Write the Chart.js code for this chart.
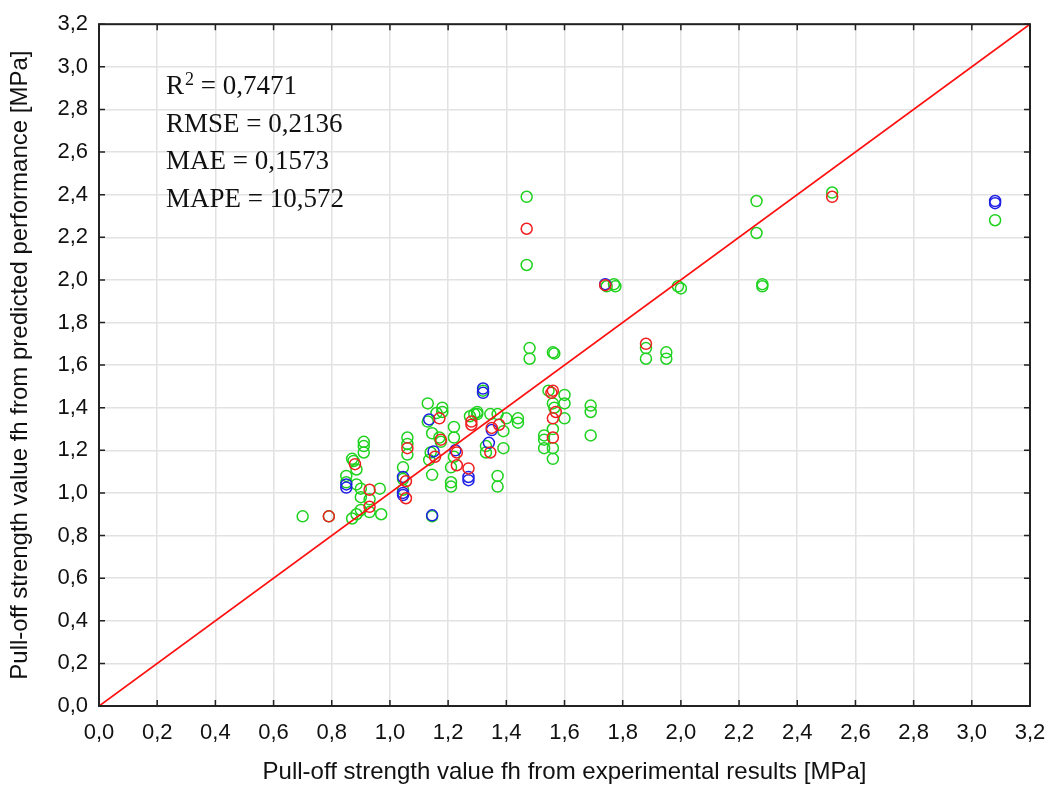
<!DOCTYPE html>
<html>
<head>
<meta charset="utf-8">
<script src="https://cdn.jsdelivr.net/npm/chart.js@4"></script>
<style>
  html, body { margin: 0; padding: 0; background: #fff; overflow: hidden; }
  #wrap { width: 1051px; height: 787px; position: relative; }
  canvas { display: block; }
</style>
</head>
<body>
<div id="wrap"><canvas id="chart"></canvas></div>
<script>
// tick labels (decimal comma, as in the original)
const tickLabels = ['0,0','0,2','0,4','0,6','0,8','1,0','1,2','1,4','1,6','1,8','2,0','2,2','2,4','2,6','2,8','3,0','3,2'];

// experimental vs predicted, [x, y] pairs per model
const greenPoints = [
  [1.47,2.39],[1.47,2.07],[1.745,1.97],[1.77,1.98],[1.775,1.97],[1.99,1.97],[2.0,1.96],
  [2.26,2.37],[2.26,2.22],[2.28,1.98],[2.28,1.97],[2.52,2.41],[3.08,2.28],
  [1.48,1.68],[1.48,1.63],[1.56,1.66],[1.565,1.655],[1.88,1.68],[1.88,1.63],[1.95,1.66],[1.95,1.63],
  [1.69,1.41],[1.69,1.38],[1.69,1.27],
  [1.32,1.48],[1.545,1.48],[1.60,1.46],[1.60,1.42],[1.60,1.35],[1.56,1.42],[1.565,1.40],[1.56,1.30],
  [1.53,1.27],[1.53,1.25],[1.53,1.21],[1.56,1.21],[1.56,1.16],
  [1.44,1.35],[1.44,1.33],[1.30,1.38],[1.30,1.37],[1.275,1.36],[1.345,1.37],[1.37,1.37],[1.40,1.35],
  [1.39,1.29],[1.33,1.22],[1.33,1.19],[1.39,1.21],[1.37,1.08],[1.37,1.03],
  [1.13,1.42],[1.18,1.40],[1.18,1.38],[1.16,1.375],[1.13,1.335],[1.22,1.31],[1.145,1.28],[1.17,1.26],
  [1.175,1.24],[1.22,1.26],[1.29,1.37],[1.14,1.19],[1.135,1.155],[1.22,1.17],[1.21,1.12],[1.145,1.085],
  [1.21,1.05],[1.21,1.03],[1.145,0.89],
  [1.045,1.12],[1.045,1.015],[1.045,1.065],[1.06,1.26],[1.06,1.23],[1.06,1.18],
  [0.91,1.24],[0.91,1.22],[0.91,1.19],[0.87,1.16],[0.875,1.15],[0.85,1.08],[0.85,1.05],[0.885,1.11],
  [0.885,1.04],[0.90,1.02],[0.965,1.02],[0.90,0.98],[0.93,0.97],[0.93,0.91],[0.90,0.92],[0.885,0.90],
  [0.87,0.88],[0.97,0.90],[0.70,0.89],[0.79,0.89]
];
const redPoints = [
  [1.47,2.24],[1.74,1.975],[2.52,2.39],[1.88,1.70],[1.56,1.48],[1.555,1.47],[1.57,1.38],[1.56,1.35],
  [1.56,1.26],[1.28,1.335],[1.28,1.32],[1.375,1.32],[1.35,1.305],[1.345,1.19],[1.27,1.115],[1.17,1.35],
  [1.175,1.25],[1.155,1.17],[1.23,1.19],[1.23,1.13],[1.055,1.055],[1.055,0.975],[1.06,1.21],[0.88,1.135],
  [0.93,1.015],[0.93,0.935],[0.79,0.89]
];
const bluePoints = [
  [1.74,1.98],[3.08,2.37],[3.08,2.36],[1.32,1.49],[1.32,1.47],[1.35,1.295],[1.34,1.235],[1.225,1.20],
  [1.27,1.075],[1.27,1.06],[1.135,1.345],[1.15,1.195],[1.145,0.895],[1.045,1.075],[1.045,1.0],
  [1.045,0.99],[0.85,1.04],[0.85,1.025]
];
const diagonal = [[0,0],[3.2,3.2]];
const statLines = [['R', '2', ' = 0,7471'], ['RMSE = 0,2136'], ['MAE = 0,1573'], ['MAPE = 10,572']];

const toXY = arr => arr.map(p => ({x: p[0], y: p[1]}));

// frame with inward ticks on all four sides + the statistics text
const framePlugin = {
  id: 'frame',
  afterDraw(chart) {
    const {ctx, chartArea: a, scales: {x, y}} = chart;
    ctx.save();
    ctx.strokeStyle = '#222';
    ctx.lineWidth = 2;
    ctx.strokeRect(a.left, a.top, a.right - a.left, a.bottom - a.top);
    ctx.lineWidth = 1.5;
    ctx.beginPath();
    x.ticks.forEach(t => {
      const px = x.getPixelForValue(t.value);
      ctx.moveTo(px, a.bottom); ctx.lineTo(px, a.bottom - 6);
      ctx.moveTo(px, a.top); ctx.lineTo(px, a.top + 6);
    });
    y.ticks.forEach(t => {
      const py = y.getPixelForValue(t.value);
      ctx.moveTo(a.left, py); ctx.lineTo(a.left + 6, py);
      ctx.moveTo(a.right, py); ctx.lineTo(a.right - 6, py);
    });
    ctx.stroke();

    // stats block
    const serif = '"Liberation Serif", "Times New Roman", serif';
    ctx.fillStyle = '#111';
    ctx.textBaseline = 'middle';
    let ly = 87;
    statLines.forEach(parts => {
      let lx = 166;
      ctx.font = '27px ' + serif;
      if (parts.length === 3) {
        ctx.fillText(parts[0], lx, ly);
        lx += ctx.measureText(parts[0]).width + 1;
        ctx.font = '18px ' + serif;
        ctx.fillText(parts[1], lx, ly - 7);
        lx += ctx.measureText(parts[1]).width;
        ctx.font = '27px ' + serif;
        ctx.fillText(parts[2], lx, ly);
      } else {
        ctx.fillText(parts[0], lx, ly);
      }
      ly += 37.5;
    });
    ctx.restore();
  }
};

const tickFont = {family: '"Liberation Sans", Arial, sans-serif', size: 22};
const titleFont = {family: '"Liberation Sans", Arial, sans-serif', size: 24};
const pointStyle = (color, order) => ({
  type: 'scatter',
  borderColor: color,
  backgroundColor: 'rgba(0,0,0,0)',
  pointRadius: 5.5,
  borderWidth: 1.5,
  order: order
});

const ctx = document.getElementById('chart').getContext('2d');
new Chart(ctx, {
  data: {
    datasets: [
      {...pointStyle('#1ed21e', 3), data: toXY(greenPoints)},
      {...pointStyle('#1e1ee6', 2), data: toXY(bluePoints)},
      {...pointStyle('#f01e1e', 1), data: toXY(redPoints)},
      {
        type: 'line',
        data: toXY(diagonal),
        borderColor: '#ff1010',
        borderWidth: 1.8,
        pointRadius: 0,
        order: 0
      }
    ]
  },
  options: {
    responsive: true,
    maintainAspectRatio: false,
    animation: false,
    layout: {padding: {top: 22, right: 21, left: 0, bottom: 0}},
    plugins: {legend: {display: false}, tooltip: {enabled: false}},
    scales: {
      x: {
        type: 'linear',
        min: 0, max: 3.2,
        afterFit: s => { s.height = 81; s.paddingRight = 0; s.paddingLeft = 0; },
        grid: {color: '#e2e2e2', lineWidth: 1.5, drawTicks: false},
        border: {display: false},
        ticks: {
          stepSize: 0.2,
          padding: 14,
          color: '#111',
          font: tickFont,
          callback: (v, i) => tickLabels[i]
        },
        title: {
          display: true,
          text: 'Pull-off strength value fh from experimental results [MPa]',
          color: '#111',
          font: titleFont,
          padding: {top: 0, bottom: 0}
        }
      },
      y: {
        type: 'linear',
        min: 0, max: 3.2,
        afterFit: s => { s.width = 99; },
        grid: {color: '#e2e2e2', lineWidth: 1.5, drawTicks: false},
        border: {display: false},
        ticks: {
          stepSize: 0.2,
          padding: 11,
          color: '#111',
          font: tickFont,
          callback: (v, i) => tickLabels[i]
        },
        title: {
          display: true,
          text: 'Pull-off strength value fh from predicted performance [MPa]',
          color: '#111',
          font: titleFont,
          padding: {top: 6, bottom: 0}
        }
      }
    }
  },
  plugins: [framePlugin]
});
</script>
</body>
</html>
